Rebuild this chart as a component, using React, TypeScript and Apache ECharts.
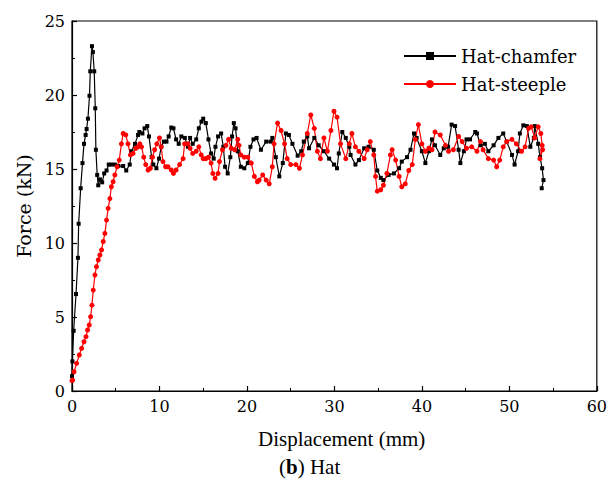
import React, { useEffect, useRef } from "react";
import * as echarts from "echarts";

const xTicks = [0, 10, 20, 30, 40, 50, 60];
const yTicks = [0, 5, 10, 15, 20, 25];
const seriesNames = ["Hat-chamfer", "Hat-steeple"];
const xName = "Displacement (mm)";
const yName = "Force (kN)";

const chamfer: number[][] = [
  [0.0, 1.0], [0.05, 2.0], [0.19, 4.07], [0.46, 6.55], [0.68, 9.0], [0.76, 11.3], [0.99, 13.7], [1.2, 15.4],
  [1.37, 16.7], [1.56, 17.3], [1.67, 17.7], [1.82, 18.4], [2.0, 19.95], [2.09, 21.6], [2.28, 23.3], [2.39, 22.9],
  [2.54, 21.6], [2.66, 19.1], [2.73, 16.3], [2.88, 14.6], [3.0, 13.9], [3.19, 14.3], [3.45, 14.1], [3.68, 14.7],
  [3.95, 14.9], [4.2, 15.3], [4.5, 15.3], [4.9, 15.3], [5.3, 15.2], [5.85, 15.2], [6.2, 14.9], [6.6, 15.3],
  [6.8, 16.2], [7.2, 16.7], [7.55, 17.3], [7.7, 17.5], [8.05, 17.4], [8.3, 17.75], [8.6, 17.9], [8.8, 17.2],
  [9.1, 15.8], [9.3, 15.3], [9.65, 15.05], [9.95, 15.7], [10.2, 16.5], [10.5, 16.85], [10.8, 16.85], [11.05, 17.2],
  [11.35, 17.8], [11.6, 17.75], [11.9, 17.0], [12.2, 16.7], [12.5, 17.2], [12.9, 17.1], [13.25, 16.5], [13.5, 17.1],
  [13.8, 16.7], [14.2, 17.0], [14.5, 17.75], [14.8, 18.2], [15.0, 18.4], [15.3, 18.1], [15.6, 17.0], [15.9, 16.05],
  [16.2, 15.7], [16.4, 16.5], [16.7, 17.2], [17.05, 17.4], [17.3, 16.5], [17.5, 15.15], [17.8, 14.7], [18.1, 15.8],
  [18.3, 17.2], [18.5, 18.1], [18.7, 17.75], [18.95, 16.2], [19.3, 15.15], [19.7, 15.05], [20.1, 15.4], [20.4, 16.5],
  [20.75, 17.0], [21.1, 17.1], [21.6, 16.3], [22.2, 16.85], [22.7, 16.85], [22.9, 17.1], [23.3, 15.8], [23.7, 14.5],
  [24.1, 15.4], [24.45, 17.4], [24.8, 17.3], [25.2, 16.7], [25.8, 15.9], [26.2, 16.2], [26.5, 16.85], [26.9, 17.2],
  [27.1, 16.4], [27.7, 17.1], [28.2, 16.6], [28.8, 16.2], [29.4, 15.7], [29.95, 15.3], [30.3, 15.05], [30.5, 16.05],
  [30.9, 17.5], [31.3, 17.1], [31.7, 16.5], [31.85, 15.95], [32.4, 15.3], [32.8, 15.6], [33.4, 16.4], [33.9, 16.5],
  [34.5, 16.3], [34.9, 14.9], [35.3, 14.4], [35.6, 14.25], [36.2, 14.6], [36.8, 14.7], [37.4, 15.05], [37.7, 15.5],
  [38.3, 15.8], [38.7, 16.3], [39.1, 17.4], [39.4, 17.1], [40.0, 16.2], [40.4, 15.4], [40.8, 16.2], [41.15, 17.0],
  [41.5, 16.6], [42.1, 15.95], [42.5, 16.4], [43.0, 16.5], [43.4, 18.0], [43.8, 17.9], [44.2, 16.3], [44.4, 15.4],
  [44.8, 16.2], [45.1, 17.0], [45.5, 17.0], [46.1, 17.5], [46.3, 17.4], [46.7, 16.6], [47.2, 16.7], [47.6, 16.2],
  [48.2, 16.6], [48.75, 17.1], [49.3, 17.4], [49.7, 16.85], [50.3, 15.95], [50.6, 15.3], [51.0, 16.2], [51.2, 17.4],
  [51.6, 17.95], [52.0, 17.9], [52.4, 16.5], [52.8, 17.1], [52.9, 17.9], [53.3, 16.7], [53.5, 15.8], [53.75, 15.05],
  [53.9, 14.25], [53.7, 13.7]
];

const steeple: number[][] = [
  [0.0, 0.7], [0.07, 0.74], [0.23, 1.3], [0.53, 1.87], [0.83, 2.43], [1.1, 2.88], [1.37, 3.33], [1.6, 3.67],
  [1.78, 4.12], [1.97, 4.46], [2.13, 5.02], [2.28, 5.8], [2.43, 6.82], [2.62, 7.84], [2.8, 8.4], [3.0, 8.85],
  [3.19, 9.19], [3.38, 9.53], [3.57, 10.1], [3.76, 10.65], [3.95, 11.55], [4.13, 12.34], [4.33, 13.0], [4.5, 13.8],
  [4.7, 14.14], [4.9, 14.6], [5.16, 15.15], [5.4, 15.6], [5.65, 16.7], [5.85, 17.4], [6.15, 17.3], [6.4, 16.7],
  [6.68, 15.95], [6.98, 16.05], [7.3, 16.4], [7.55, 16.5], [7.75, 16.7], [7.95, 16.5], [8.2, 15.8], [8.43, 15.3],
  [8.7, 14.93], [8.96, 15.05], [9.2, 15.8], [9.45, 16.3], [9.7, 16.7], [10.0, 17.1], [10.2, 16.5], [10.4, 15.5],
  [10.7, 15.15], [10.97, 15.15], [11.35, 14.93], [11.6, 14.7], [11.9, 14.93], [12.3, 15.3], [12.7, 15.7], [12.87, 16.7],
  [13.25, 16.7], [13.5, 16.4], [13.8, 16.05], [14.2, 16.2], [14.5, 16.5], [14.77, 15.95], [15.0, 15.7], [15.3, 15.7],
  [15.6, 15.8], [15.9, 15.4], [16.1, 14.7], [16.36, 14.37], [16.7, 14.7], [16.86, 15.5], [17.2, 16.3], [17.6, 16.6],
  [17.9, 17.0], [18.2, 16.4], [18.6, 16.3], [18.95, 17.0], [19.1, 16.6], [19.3, 15.95], [19.7, 15.8], [20.1, 15.8],
  [20.5, 15.4], [20.85, 14.5], [21.2, 14.14], [21.4, 14.25], [21.8, 14.6], [22.2, 14.25], [22.55, 14.0], [22.9, 15.15],
  [23.1, 16.7], [23.5, 18.1], [23.9, 17.6], [24.3, 16.7], [24.6, 15.7], [25.0, 15.3], [25.6, 15.3], [26.0, 15.05],
  [26.35, 15.95], [26.9, 17.4], [27.3, 18.65], [27.7, 17.75], [28.05, 16.2], [28.4, 15.7], [28.8, 17.1], [29.2, 16.2],
  [29.6, 17.6], [29.95, 18.9], [30.3, 18.5], [30.7, 16.7], [31.3, 15.7], [31.7, 16.7], [32.0, 17.4], [32.4, 16.5],
  [32.8, 16.2], [33.4, 15.7], [33.75, 16.3], [34.1, 16.85], [34.5, 15.95], [34.7, 14.5], [34.9, 13.5], [35.3, 13.6],
  [35.6, 13.9], [36.0, 14.7], [36.4, 15.95], [36.6, 16.3], [37.0, 15.6], [37.4, 14.5], [37.7, 13.8], [38.1, 14.0],
  [38.5, 14.9], [38.9, 15.3], [39.25, 17.0], [39.6, 18.0], [40.0, 16.7], [40.4, 16.2], [40.8, 16.4], [41.15, 16.3],
  [41.5, 17.5], [42.1, 17.3], [42.7, 16.6], [43.05, 16.2], [43.6, 16.3], [44.2, 17.2], [44.6, 16.85], [45.1, 16.4],
  [45.7, 16.5], [46.3, 16.2], [46.7, 16.85], [47.0, 16.3], [47.6, 15.7], [48.2, 15.6], [48.55, 15.15], [48.9, 15.6],
  [49.3, 16.5], [49.7, 16.85], [50.3, 17.0], [50.8, 16.7], [51.4, 16.2], [51.8, 16.5], [52.2, 17.75], [52.5, 17.85],
  [52.9, 17.1], [53.3, 17.85], [53.6, 17.4], [53.75, 16.6], [53.5, 15.7], [53.8, 16.3]
];

const SERIF = "Liberation Serif";
const SERIF2 = "DejaVu Serif";

export default function App() {
  const ref = useRef<HTMLDivElement>(null);
  useEffect(() => {
    if (!ref.current) return;
    const chart = echarts.init(ref.current, undefined, { renderer: "svg" });
    const axisCommon = {
      axisLine: { show: true, onZero: false, lineStyle: { color: "#000", width: 1.2 } },
      axisTick: { show: true, inside: true, length: 5, lineStyle: { color: "#000", width: 1.2 } },
      minorTick: { show: true, splitNumber: 2, length: 3, lineStyle: { color: "#000", width: 1 } },
      splitLine: { show: false },
    };
    chart.setOption({
      animation: false,
      backgroundColor: "#fff",
      title: [
        {
          text: "{n|(}{b|b}{n|) Hat}",
          left: 274,
          top: 451,
          textStyle: {
            fontFamily: SERIF, fontSize: 21, fontWeight: "normal", color: "#000",
            rich: {
              n: { fontFamily: SERIF, fontSize: 21, fontWeight: "normal", color: "#000" },
              b: { fontFamily: SERIF, fontSize: 21, fontWeight: "bold", color: "#000" },
            },
          },
        },
        {
          text: xName,
          left: 253,
          top: 423,
          textStyle: { fontFamily: SERIF, fontSize: 21, fontWeight: "normal", color: "#000" },
        },
      ],
      grid: {
        left: 72, right: 10, top: 21, bottom: 93,
        show: true, borderColor: "#000", borderWidth: 1.2, backgroundColor: "transparent",
      },
      legend: {
        orient: "vertical",
        left: 398,
        top: 41,
        itemWidth: 52,
        itemHeight: 10,
        itemGap: 8,
        data: seriesNames,
        textStyle: { fontFamily: SERIF2, fontSize: 18, color: "#000", lineHeight: 20 },
      },
      xAxis: {
        ...axisCommon,
        type: "value",
        min: 0,
        max: 60,
        interval: 10,
        axisLabel: {
          fontFamily: SERIF2, fontSize: 16, color: "#000", margin: 7,
          formatter: (v: number) => (xTicks.includes(v) ? String(v) : ""),
        },
      },
      yAxis: {
        ...axisCommon,
        type: "value",
        min: 0,
        max: 25,
        interval: 5,
        name: yName,
        nameLocation: "middle",
        nameGap: 38,
        nameTextStyle: { fontFamily: SERIF2, fontSize: 19, color: "#000" },
        axisLabel: {
          fontFamily: SERIF2, fontSize: 16, color: "#000", margin: 7,
          formatter: (v: number) => (yTicks.includes(v) ? String(v) : ""),
        },
      },
      series: [
        {
          name: seriesNames[0],
          type: "line",
          data: chamfer,
          symbol: "rect",
          symbolSize: 4,
          itemStyle: { color: "#000" },
          lineStyle: { color: "#000", width: 1.2 },
        },
        {
          name: seriesNames[1],
          type: "line",
          data: steeple,
          symbol: "circle",
          symbolSize: 5,
          itemStyle: { color: "#ff0000" },
          lineStyle: { color: "#ff0000", width: 1.2 },
        },
      ],
    });
    return () => chart.dispose();
  }, []);
  return <div ref={ref} style={{ width: 610, height: 484, position: "absolute", left: 0, top: 0 }} />;
}
